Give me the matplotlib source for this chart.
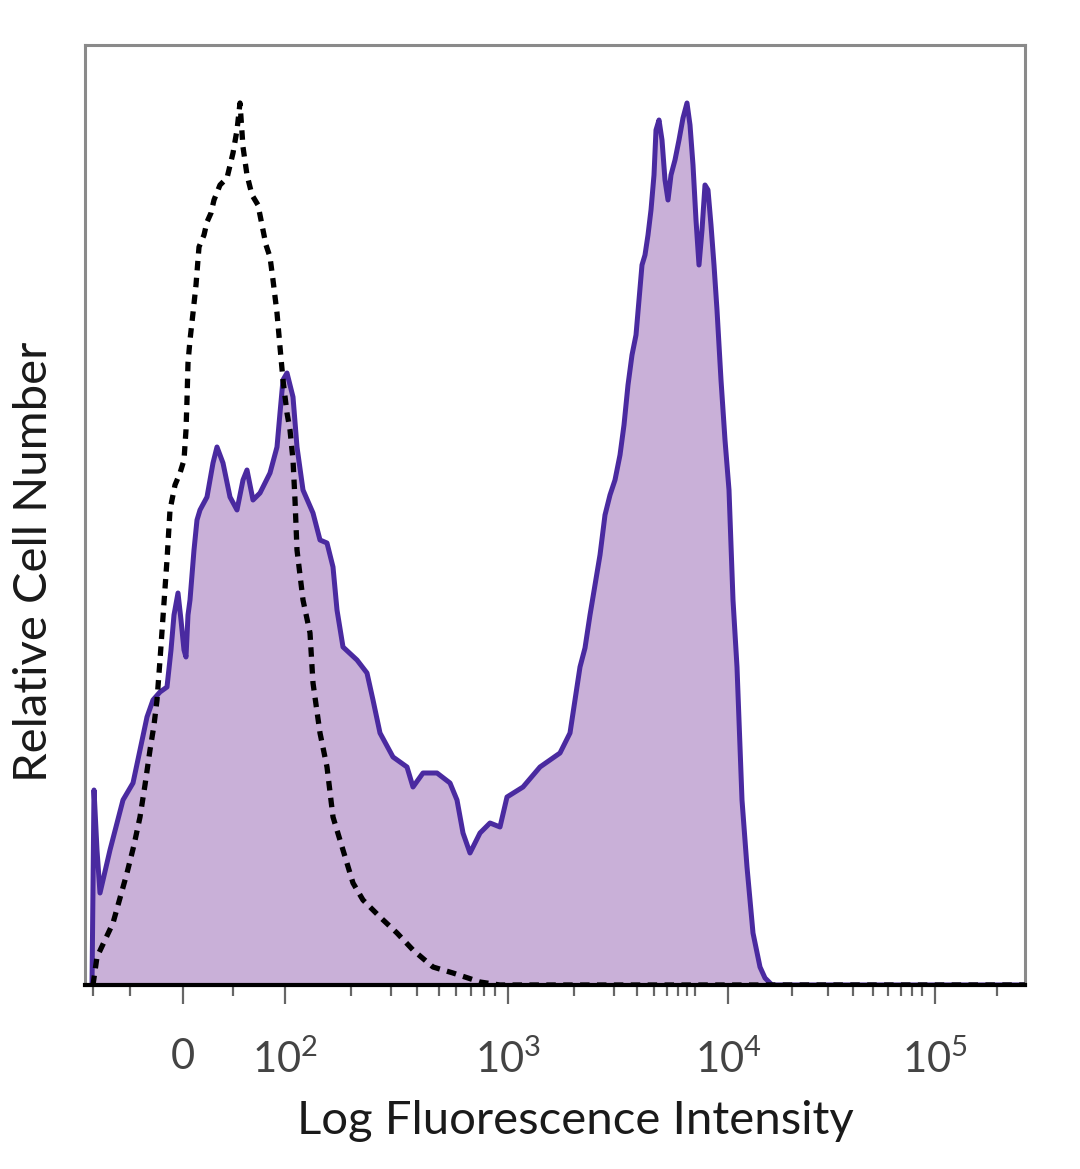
import matplotlib
matplotlib.use("Agg")
import matplotlib.pyplot as plt

# (channel, relative count) pairs; channel 0..940 spans the plot, counts 0..940
stained = [(7, 0), (9, 195), (12, 135), (15, 92), (25, 135), (38, 185), (48, 202), (62, 268), (68, 285),
           (75, 293), (82, 298), (86, 335), (89, 370), (93, 392), (96, 365), (99, 335), (101, 328), (103, 370),
           (105, 385), (109, 435), (112, 465), (115, 475), (122, 488), (128, 522), (132, 538), (138, 522),
           (145, 488), (152, 475), (158, 505), (162, 515), (168, 485), (175, 492), (185, 512), (192, 538),
           (195, 572), (198, 605), (202, 612), (208, 588), (212, 538), (218, 495), (228, 472), (235, 445),
           (242, 442), (248, 418), (252, 375), (258, 338), (272, 325), (282, 312), (288, 285), (295, 252),
           (308, 228), (322, 218), (328, 198), (338, 212), (352, 212), (365, 202), (372, 185), (378, 152),
           (385, 132), (395, 152), (405, 162), (415, 158), (422, 188), (438, 198), (455, 218), (475, 232),
           (485, 252), (495, 318), (500, 337), (505, 370), (510, 400), (515, 430), (520, 470), (525, 490),
           (530, 505), (535, 530), (539, 560), (543, 600), (547, 630), (551, 650), (554, 685), (557, 720),
           (560, 730), (563, 750), (566, 775), (569, 810), (571, 855), (574, 865), (577, 845), (580, 805),
           (583, 785), (586, 810), (590, 825), (594, 845), (598, 867), (602, 882), (605, 860), (608, 820),
           (611, 765), (614, 720), (617, 755), (620, 800), (623, 795), (626, 760), (629, 720), (632, 675),
           (636, 605), (640, 545), (644, 495), (648, 385), (652, 318), (657, 185), (662, 118), (668, 52),
           (675, 18), (680, 7), (687, 0), (940, 0)]

control = [(8, 0), (12, 28), (20, 45), (28, 62), (35, 87), (42, 112), (49, 140), (55, 168), (60, 200),
           (65, 235), (69, 260), (72, 285), (75, 325), (78, 368), (82, 425), (85, 475), (90, 500), (95, 512),
           (99, 525), (101, 555), (102, 585), (103, 622), (105, 645), (108, 672), (111, 700), (114, 738),
           (119, 750), (122, 763), (126, 772), (129, 785), (135, 800), (142, 807), (148, 832), (152, 855),
           (155, 882), (158, 838), (162, 810), (167, 790), (173, 780), (177, 760), (181, 740), (185, 728),
           (188, 705), (192, 672), (195, 638), (198, 605), (202, 572), (205, 555), (208, 525), (210, 485),
           (212, 435), (218, 385), (225, 352), (228, 302), (235, 252), (242, 218), (248, 168), (258, 135),
           (268, 102), (278, 85), (295, 68), (312, 52), (328, 35), (348, 18), (368, 12), (395, 3), (415, 0),
           (940, 0)]

tick_pos = [98, 200, 423, 643, 850]
tick_labels = ["0", r"$10^2$", r"$10^3$", r"$10^4$", r"$10^5$"]
minor_pos = [8, 45, 148, 266, 306, 332, 354, 371, 386, 399, 410, 489, 529, 552, 569, 582, 593, 602, 610,
             707, 743, 768, 788, 803, 816, 827, 837, 912]

fill_color = "#c9b0d8"
line_color = "#4a2aa0"

plt.rcParams['font.family'] = ['Lato', 'DejaVu Sans']
plt.rcParams['mathtext.fontset'] = 'custom'
plt.rcParams['mathtext.rm'] = 'Lato'

sx = [p[0] for p in stained]
sy = [p[1] for p in stained]
cx = [p[0] for p in control]
cy = [p[1] for p in control]

fig = plt.figure(figsize=(10.8, 11.69), dpi=100)
ax = fig.add_axes([85/1080, 1 - 985/1169, 940/1080, 940/1169])

ax.fill_between(sx, sy, 0, color=fill_color, lw=0, zorder=1)
ax.plot(sx, sy, color=line_color, lw=3.6, zorder=2)
ax.plot(cx, cy, color="black", lw=3.8, linestyle=(0, (1.8, 1.4)), zorder=3)

ax.set_xlim(0, 940)
ax.set_ylim(0, 940)

ax.set_xticks(tick_pos)
ax.set_xticklabels(tick_labels, fontsize=30, color="#444444")
ax.set_xticks(minor_pos, minor=True)
ax.tick_params(axis='x', which='major', length=14, width=1.6, color="#666666", pad=24, direction='out')
ax.tick_params(axis='x', which='minor', length=8, width=1.6, color="#666666", direction='out')
ax.set_yticks([])

for s in ['left', 'top', 'right']:
    ax.spines[s].set_color("#8a8a8a")
    ax.spines[s].set_linewidth(2.2)
ax.spines['bottom'].set_color("black")
ax.spines['bottom'].set_linewidth(3.0)

ax.set_xlabel("Log Fluorescence Intensity", fontsize=34, color="#1a1a1a")
ax.xaxis.set_label_coords(0.522, -0.122)
ax.set_ylabel("Relative Cell Number", fontsize=34, color="#1a1a1a")
ax.yaxis.set_label_coords(-0.032, 0.45)

fig.savefig("out.png", dpi=100, facecolor="white")
